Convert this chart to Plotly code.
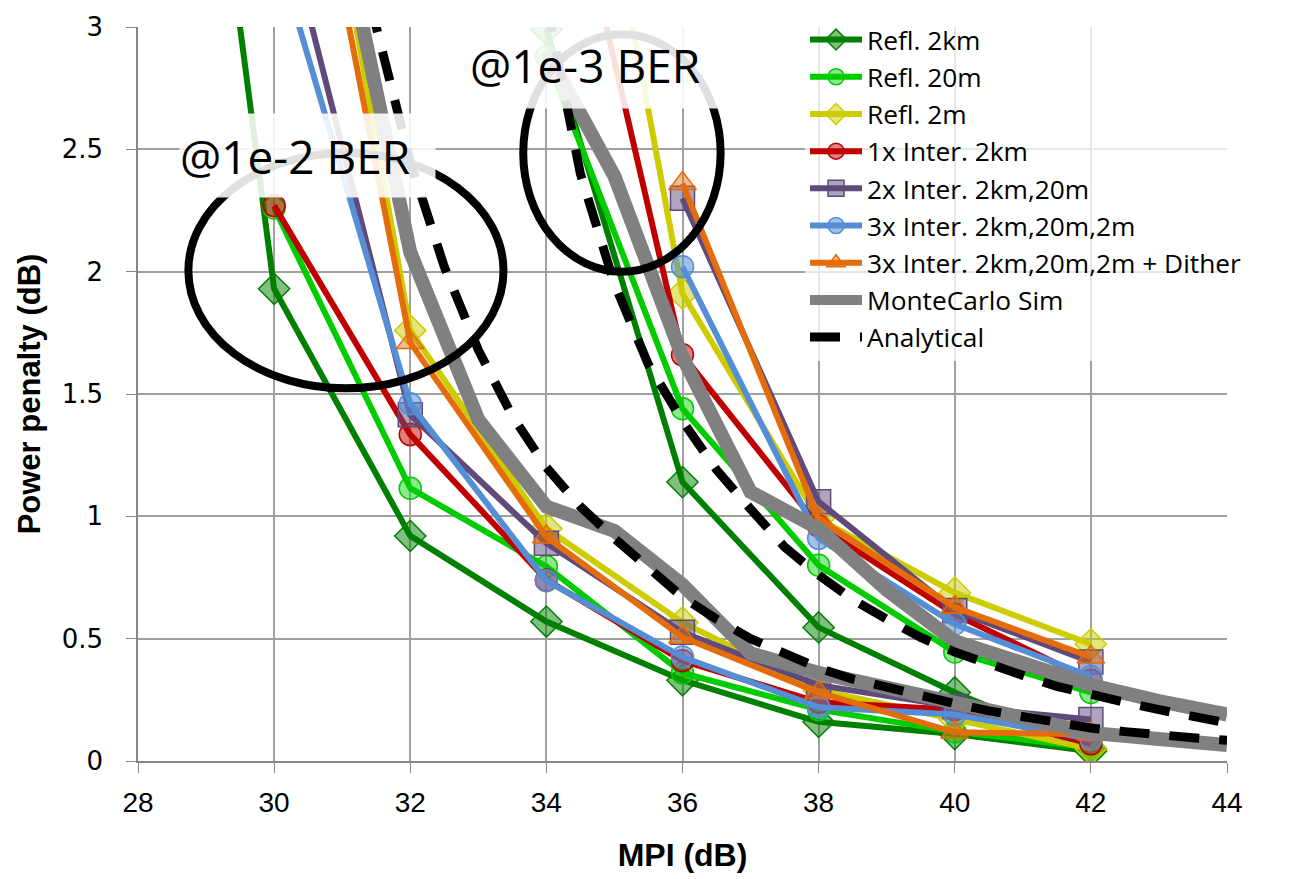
import plotly.graph_objects as go

# MPI sweep points (dB) for the 1e-2 and 1e-3 BER measurement sets
mpi_1e2 = [28, 30, 32, 34, 36, 38, 40, 42]
mpi_1e3 = [34, 36, 38, 40, 42]

# Measured power penalty (dB); None = not measured
refl_2km_1e2 = [6.2, 1.93, 0.92, 0.57, 0.33, 0.16, 0.11, 0.04]
refl_20m_1e2 = [None, 2.26, 1.115, 0.795, 0.36, 0.21, 0.12, 0.055]
refl_2m_1e2 = [None, 4.88, 1.76, 0.95, 0.566, 0.29, 0.17, 0.05]
inter1_1e2 = [None, 2.27, 1.334, 0.74, 0.41, 0.24, 0.21, 0.07]
inter2_1e2 = [None, 3.61, 1.415, 0.89, 0.526, 0.31, 0.223, 0.17]
inter3_1e2 = [None, 3.35, 1.46, 0.737, 0.425, 0.22, 0.19, 0.09]
dither_1e2 = [None, 4.58, 1.71, 0.916, 0.506, 0.28, 0.117, 0.11]

refl_2km_1e3 = [2.99, 1.14, 0.546, 0.28, 0.05]
refl_20m_1e3 = [2.88, 1.44, 0.80, 0.446, 0.28]
refl_2m_1e3 = [4.9, 1.91, 0.99, 0.688, 0.477]
inter1_1e3 = [4.06, 1.66, 0.96, 0.60, 0.33]
inter2_1e3 = [None, 2.30, 1.06, 0.615, 0.405]
inter3_1e3 = [None, 2.02, 0.91, 0.56, 0.345]
dither_1e3 = [None, 2.36, 0.99, 0.628, 0.425]

# Monte Carlo simulation
mc_mpi_1e2 = [31, 32, 33, 34, 35, 36, 37, 38, 39, 40, 41, 42, 43, 44]
mc_1e2 = [3.4, 2.08, 1.395, 1.04, 0.94, 0.72, 0.44, 0.36, 0.30, 0.24, 0.175, 0.115, 0.09, 0.065]
mc_mpi_1e3 = [34, 35, 36, 37, 38, 39, 40, 41, 42, 43, 44]
mc_1e3 = [2.9, 2.39, 1.65, 1.10, 0.95, 0.70, 0.49, 0.40, 0.31, 0.245, 0.19]

# Analytical model
an_mpi_1e2 = [31, 31.5, 32, 32.5, 33, 33.5, 34, 34.5, 35, 35.5, 36, 36.5, 37, 37.5,
              38, 38.5, 39, 39.5, 40, 40.5, 41, 41.5, 42, 42.5, 43, 43.5, 44]
an_1e2 = [3.7, 3.0, 2.45, 2.02, 1.68, 1.41, 1.2, 1.04, 0.91, 0.79, 0.67, 0.58, 0.50, 0.44,
          0.38, 0.335, 0.30, 0.265, 0.235, 0.205, 0.18, 0.155, 0.135, 0.12, 0.105, 0.095, 0.085]
an_mpi_1e3 = [34, 34.5, 35, 35.5, 36, 36.5, 37, 37.5, 38, 38.5, 39, 39.5, 40, 40.5,
              41, 41.5, 42, 42.5, 43, 43.5, 44]
an_1e3 = [3.1, 2.40, 1.95, 1.62, 1.39, 1.19, 1.03, 0.875, 0.76, 0.66, 0.58, 0.505, 0.445, 0.395,
          0.35, 0.305, 0.27, 0.24, 0.21, 0.18, 0.155]

x_ticks = [28, 30, 32, 34, 36, 38, 40, 42, 44]
y_ticks = [0, 0.5, 1, 1.5, 2, 2.5, 3]
y_tick_text = ["0", "0.5", "1", "1.5", "2", "2.5", "3"]


def pairs(xs, ys):
    px, py = [], []
    for a, b in zip(xs, ys):
        if b is not None:
            px.append(a)
            py.append(b)
    return px, py


measured = [
    ("Refl. 2km", refl_2km_1e2, refl_2km_1e3, "rgb(0,128,0)", "rgba(0,128,0,0.5)", "diamond", 24),
    ("Refl. 20m", refl_20m_1e2, refl_20m_1e3, "rgb(0,204,0)", "rgba(0,204,0,0.45)", "circle", 22),
    ("Refl. 2m", refl_2m_1e2, refl_2m_1e3, "rgb(204,204,0)", "rgba(204,204,0,0.5)", "diamond", 24),
    ("1x Inter. 2km", inter1_1e2, inter1_1e3, "rgb(192,0,0)", "rgba(192,0,0,0.5)", "circle", 22),
    ("2x Inter. 2km,20m", inter2_1e2, inter2_1e3, "rgb(96,74,123)", "rgba(96,74,123,0.5)", "square", 24),
    ("3x Inter. 2km,20m,2m", inter3_1e2, inter3_1e3, "rgb(85,142,213)", "rgba(85,142,213,0.55)", "circle", 22),
    ("3x Inter. 2km,20m,2m + Dither", dither_1e2, dither_1e3, "rgb(228,108,10)", "rgba(228,108,10,0.45)", "triangle-up", 24),
]

fig = go.Figure()

for name, lo, hi, col, fill, sym, size in measured:
    x1, y1 = pairs(mpi_1e2, lo)
    x2, y2 = pairs(mpi_1e3, hi)
    fig.add_trace(go.Scatter(
        x=x1 + [None] + x2, y=y1 + [None] + y2,
        mode="lines+markers", name=name, connectgaps=False,
        line=dict(color=col, width=6),
        marker=dict(symbol=sym, size=size, color=fill, line=dict(color=col, width=1.5)),
    ))

fig.add_trace(go.Scatter(
    x=mc_mpi_1e2 + [None] + mc_mpi_1e3, y=mc_1e2 + [None] + mc_1e3,
    mode="lines", name="MonteCarlo Sim", connectgaps=False,
    line=dict(color="rgb(128,128,128)", width=14),
))
fig.add_trace(go.Scatter(
    x=an_mpi_1e2 + [None] + an_mpi_1e3, y=an_1e2 + [None] + an_1e3,
    mode="lines", name="Analytical", connectgaps=False,
    line=dict(color="black", width=9, dash="30px,20px"),
))

# BER regions
fig.add_shape(type="circle", xref="x", yref="y", x0=28.74, x1=33.37, y0=1.523, y1=2.485,
              line=dict(color="black", width=8), layer="above")
fig.add_shape(type="circle", xref="x", yref="y", x0=33.66, x1=36.56, y0=2.0, y1=2.97,
              line=dict(color="black", width=8), layer="above")

label_font = dict(family="Open Sans, sans-serif", size=46, color="black")
fig.add_annotation(x=30.49, y=2.475, xref="x", yref="y", text="@1e-2 BER", showarrow=False,
                   font=label_font, bgcolor="rgba(255,255,255,0.88)", width=255, height=83,
                   align="left", borderpad=0)
fig.add_annotation(x=35.16, y=2.845, xref="x", yref="y", text="@1e-3 BER", showarrow=False,
                   font=label_font, bgcolor="rgba(255,255,255,0.88)", width=310, height=87,
                   align="left", borderpad=0)

grid = "rgb(160,160,160)"
axis_col = "rgb(134,134,134)"
narrow = "Liberation Sans Narrow, Arial Narrow, Liberation Sans, sans-serif"

fig.update_layout(
    width=1291, height=879,
    margin=dict(l=138, r=64, t=20, b=117),
    paper_bgcolor="white", plot_bgcolor="white",
    showlegend=True,
    legend=dict(
        x=0.6125, y=1.015, xanchor="left", yanchor="top",
        bgcolor="rgba(255,255,255,0.75)",
        font=dict(family="Open Sans, sans-serif", size=26.3, color="black"),
        tracegroupgap=0, itemwidth=52,
    ),
    xaxis=dict(
        range=[28, 44], tickvals=x_ticks, showgrid=True, gridcolor=grid, gridwidth=1.5,
        showline=True, linecolor=axis_col, linewidth=1.5, ticks="outside", ticklen=10,
        tickcolor=axis_col, zeroline=False, ticklabelstandoff=6,
        tickfont=dict(family=narrow, size=28, color="black"),
        title=dict(text="<b>MPI (dB)</b>", standoff=26,
                   font=dict(family=narrow, size=32, color="black")),
    ),
    yaxis=dict(
        range=[0, 3], tickvals=y_ticks, ticktext=y_tick_text, showgrid=True, gridcolor=grid,
        gridwidth=1.5, showline=True, linecolor=axis_col, linewidth=1.5, ticks="outside",
        ticklen=10, tickcolor=axis_col, zeroline=False, ticklabelstandoff=18,
        tickfont=dict(family="DejaVu Sans, sans-serif", size=26, color="black"),
        title=dict(text="<b>Power penalty (dB)</b>", standoff=12,
                   font=dict(family=narrow, size=31, color="black")),
    ),
)

fig.write_html("out.html")
